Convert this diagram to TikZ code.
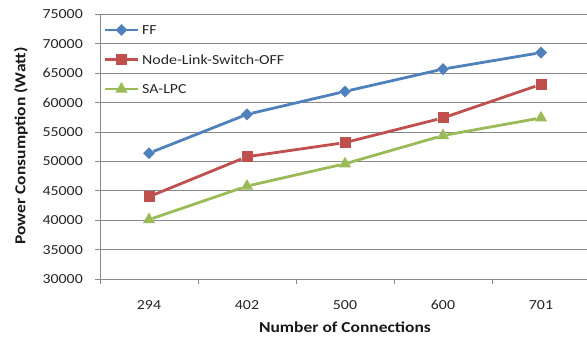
\documentclass[tikz,border=0pt]{standalone}
\usepackage{fontspec}
\setmainfont{Carlito}[FakeStretch=1.15]
\usetikzlibrary{positioning,shapes.geometric}
\definecolor{ffblue}{HTML}{4F81BD}
\definecolor{nlsored}{HTML}{C0504D}
\definecolor{lpcgreen}{HTML}{9BBB59}
\definecolor{gridgray}{HTML}{898989}

\begin{document}
\begin{tikzpicture}[
  x=1pt, y=-1pt,
  gridline/.style={draw=gridgray, line width=0.9pt},
  ticklabel/.style={font=\fontsize{13.8}{15}\selectfont, text=black!85, inner sep=0pt},
  axistitle/.style={font=\fontsize{15.2}{17}\selectfont\bfseries, text=black!90, inner sep=0pt},
  ffline/.style={draw=ffblue, line width=2.8pt, line join=round},
  nlsoline/.style={draw=nlsored, line width=2.8pt, line join=round},
  lpcline/.style={draw=lpcgreen, line width=2.8pt, line join=round},
  ffmark/.style={diamond, aspect=1, fill=ffblue, inner sep=0pt, minimum size=12pt},
  nlsomark/.style={rectangle, fill=nlsored, inner sep=0pt, minimum size=11pt},
  lpcmark/.style={regular polygon, regular polygon sides=3, fill=lpcgreen, inner sep=0pt, minimum size=14pt},
  legendtext/.style={font=\fontsize{13.8}{15}\selectfont, text=black!85, inner sep=0pt, anchor=west}
]
\useasboundingbox[fill=white] (0,0) rectangle (587,338);

% plot area: categories of 98pt, 5000 W every 29.4pt
\begin{scope}[shift={(100,279)}, x=98pt, y=5.88pt]
  % grid and y labels
  \foreach \v in {30,35,...,75} {
    \draw[gridline] (-0.05,\v-30) -- (5,\v-30);
    \node[ticklabel, anchor=east] (y\v) at ([xshift=-17pt]0,\v-30) {\v000};
  }
  \draw[gridline] (0,0) -- (0,45);
  \foreach \c in {0,...,5}
    \draw[gridline] (\c,0) -- ([yshift=-5pt]\c,0);
  % x labels
  \foreach \n [count=\i] in {294,402,500,600,701}
    \node[ticklabel] (x\i) at ([yshift=-26pt]\i-0.5,0) {\n};

  % data
  \foreach \v [count=\i] in {40.1,45.8,49.6,54.4,57.4}
    \node[lpcmark] (lpc\i) at (\i-0.5,\v-30) {};
  \draw[lpcline] (lpc1) -- (lpc2) -- (lpc3) -- (lpc4) -- (lpc5);
  \foreach \v [count=\i] in {44,50.8,53.2,57.4,63.1}
    \node[nlsomark] (nlso\i) at (\i-0.5,\v-30) {};
  \draw[nlsoline] (nlso1) -- (nlso2) -- (nlso3) -- (nlso4) -- (nlso5);
  \foreach \v [count=\i] in {51.4,58,61.9,65.7,68.5}
    \node[ffmark] (ff\i) at (\i-0.5,\v-30) {};
  \draw[ffline] (ff1) -- (ff2) -- (ff3) -- (ff4) -- (ff5);
\end{scope}

% legend
\coordinate (lgff) at (105,30);
\coordinate (lgnlso) at (105,59.5);
\coordinate (lglpc) at (105,89);
\draw[ffline] (lgff) -- ++(33,0) coordinate (lgffend);
\node[ffmark] at ([xshift=-16.5pt]lgffend) {};
\node[legendtext, right=4pt of lgffend] (lblff) {FF};
\draw[nlsoline] (lgnlso) -- ++(33,0) coordinate (lgnlsoend);
\node[nlsomark] at ([xshift=-16.5pt]lgnlsoend) {};
\node[legendtext, right=4pt of lgnlsoend] (lblnlso) {Node-Link-Switch-OFF};
\draw[lpcline] (lglpc) -- ++(33,0) coordinate (lglpcend);
\node[lpcmark] at ([xshift=-16.5pt]lglpcend) {};
\node[legendtext, right=4pt of lglpcend] (lbllpc) {SA-LPC};

% axis titles
\node[axistitle, rotate=90] (ytitle) at (21,146) {Power Consumption (Watt)};
\node[axistitle] (xtitle) at (345,327) {Number of Connections};
\end{tikzpicture}
\end{document}
